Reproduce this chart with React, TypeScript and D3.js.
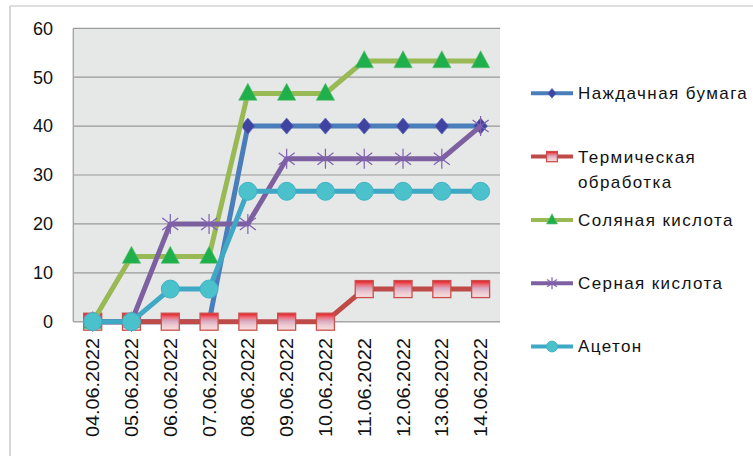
import React from "react";
import * as d3 from "d3";

const dates = ["04.06.2022","05.06.2022","06.06.2022","07.06.2022","08.06.2022","09.06.2022","10.06.2022","11.06.2022","12.06.2022","13.06.2022","14.06.2022"];
const sandpaper = [0,0,0,0,40,40,40,40,40,40,40];
const thermal = [0,0,0,0,0,0,0,6.67,6.67,6.67,6.67];
const hydrochloric = [0,13.33,13.33,13.33,46.67,46.67,46.67,53.33,53.33,53.33,53.33];
const sulfuric = [0,0,20,20,20,33.33,33.33,33.33,33.33,33.33,40];
const acetone = [0,0,6.67,6.67,26.67,26.67,26.67,26.67,26.67,26.67,26.67];
const yTicks = [0,10,20,30,40,50,60];

const seriesNames = [["Наждачная бумага"],["Термическая","обработка"],["Соляная кислота"],["Серная кислота"],["Ацетон"]];
const seriesValues = [sandpaper, thermal, hydrochloric, sulfuric, acetone];
const lineColors = ["#4A7EBB","#BE4B48","#98B954","#7D60A0","#3FA9C5"];
const markerKinds = ["diamond","square","triangle","star","circle"];

const W = 753, H = 456;
const plotL = 73.3, plotR = 500, plotT = 28.3, plotB = 321.7;

function Marker({ kind, x, y, s }: { kind: string; x: number; y: number; s: number }) {
  if (kind === "diamond") {
    const rx = 6.8 * s, ry = 8 * s;
    return <path d={`M${x},${y - ry}L${x + rx},${y}L${x},${y + ry}L${x - rx},${y}Z`} fill="#3F44A0" stroke="#5A62B8" strokeWidth={0.8} />;
  }
  if (kind === "square") {
    const w = 18 * s, h = 17 * s;
    return <rect x={x - w / 2} y={y - h / 2} width={w} height={h} fill="url(#sqGrad)" stroke="#C9504D" strokeWidth={1.3} />;
  }
  if (kind === "triangle") {
    const w = 9.2 * s, h = 17 * s;
    return <path d={`M${x},${y - h * 0.6}L${x + w},${y + h * 0.4}L${x - w},${y + h * 0.4}Z`} fill="#1FAF4B" stroke="#5CC070" strokeWidth={0.6} />;
  }
  if (kind === "star") {
    const r = 10 * s, d = 8 * s;
    return (
      <g stroke="#8060B0" strokeWidth={1.2}>
        <line x1={x - d} y1={y - d * 0.75} x2={x + d} y2={y + d * 0.75} />
        <line x1={x - d} y1={y + d * 0.75} x2={x + d} y2={y - d * 0.75} />
        <line x1={x} y1={y - r} x2={x} y2={y + r} />
      </g>
    );
  }
  return <circle cx={x} cy={y} r={9 * s} fill="#4BC1CB" stroke="#41B3C6" strokeWidth={1} />;
}

export default function App() {
  const x = d3.scaleBand<string>().domain(dates).range([plotL, plotR]).padding(0);
  const y = d3.scaleLinear().domain([0, 60]).range([plotB, plotT]);
  const cx = (d: string) => (x(d) as number) + x.bandwidth() / 2;
  const line = d3.line<number>().x((_, i) => cx(dates[i])).y((v) => y(v));

  const legendX = 531, legendTop = 93.3, legendStep = 63.3;

  return (
    <svg width={W} height={H} style={{ position: "absolute", left: 0, top: 0, background: "#fff" }} fontFamily="'Liberation Sans', Arial, sans-serif">
      <defs>
        <linearGradient id="sqGrad" x1="0" y1="0" x2="0" y2="1">
          <stop offset="0%" stopColor="#E5141E" />
          <stop offset="25%" stopColor="#EC6F7A" />
          <stop offset="45%" stopColor="#D8A8C0" />
          <stop offset="70%" stopColor="#EDC9CF" />
          <stop offset="100%" stopColor="#F6DEDE" />
        </linearGradient>
      </defs>
      <line x1={10} y1={6} x2={W} y2={6} stroke="#BDBDBD" strokeWidth={1.2} />
      <line x1={10} y1={6} x2={10} y2={H} stroke="#BDBDBD" strokeWidth={1.2} />
      <rect x={plotL} y={plotT} width={plotR - plotL} height={plotB - plotT} fill="#E6E7E7" />
      {yTicks.filter((t) => t > 0).map((t) => (
        <line key={t} x1={plotL} x2={plotR} y1={y(t)} y2={y(t)} stroke="#9A9A9A" strokeWidth={1.2} />
      ))}
      <line x1={plotL} x2={plotL} y1={plotT} y2={plotB} stroke="#A6A6A6" strokeWidth={1.4} />
      <line x1={plotL} x2={plotR} y1={plotB} y2={plotB} stroke="#A6A6A6" strokeWidth={1.4} />
      {yTicks.map((t) => (
        <text key={t} x={53} y={y(t)} dy="0.35em" textAnchor="end" fontSize={18} fill="#111">{t}</text>
      ))}
      {dates.map((d) => (
        <text key={d} transform={`translate(${cx(d)},338) rotate(-90)`} dy="0.35em" textAnchor="end" fontSize={18.5} textLength={99} lengthAdjust="spacingAndGlyphs" fill="#111">{d}</text>
      ))}
      {seriesValues.map((vals, si) => (
        <g key={si}>
          <path d={line(vals) as string} fill="none" stroke={lineColors[si]} strokeWidth={5} strokeLinejoin="round" />
          {vals.map((v, i) => (
            <Marker key={i} kind={markerKinds[si]} x={cx(dates[i])} y={y(v)} s={1} />
          ))}
        </g>
      ))}
      {seriesNames.map((names, si) => {
        const ly = legendTop + si * legendStep;
        return (
          <g key={si}>
            <line x1={legendX} x2={legendX + 42} y1={ly} y2={ly} stroke={lineColors[si]} strokeWidth={4} />
            <Marker kind={markerKinds[si]} x={legendX + 21} y={ly} s={0.6} />
            {names.map((n, k) => (
              <text key={k} x={578} y={ly + k * 25} dy="0.35em" fontSize={17} letterSpacing={1.4} fill="#111">{n}</text>
            ))}
          </g>
        );
      })}
    </svg>
  );
}
